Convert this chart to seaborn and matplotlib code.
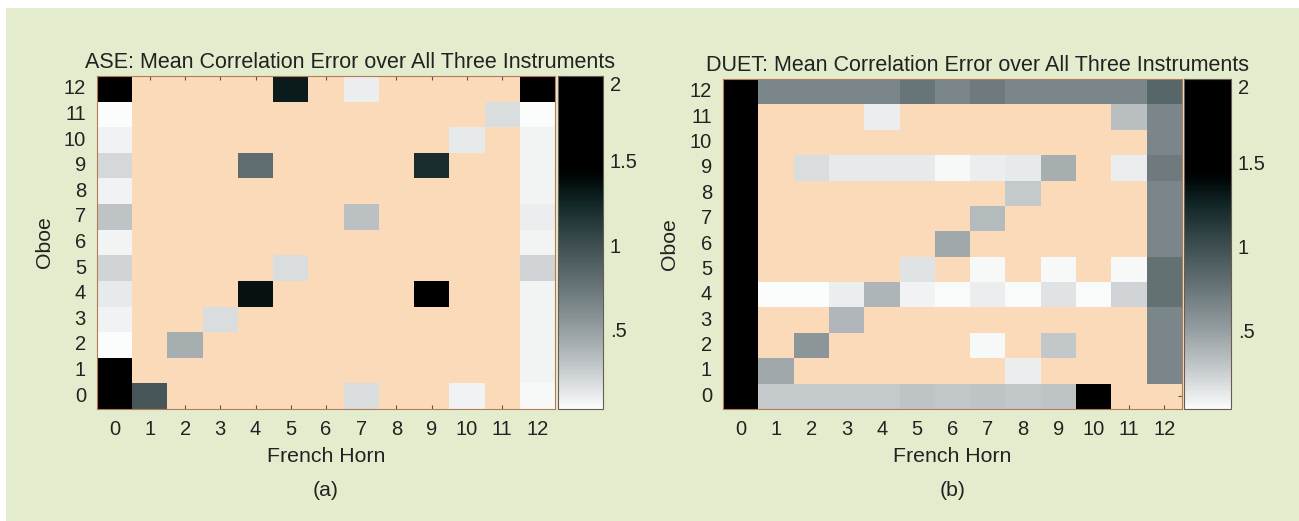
import numpy as np
import pandas as pd
import matplotlib
matplotlib.use("Agg")
import matplotlib.pyplot as plt
from matplotlib.colors import LinearSegmentedColormap
from matplotlib.patches import Rectangle
import seaborn as sns

sns.set_style("white")
plt.rcParams["font.family"] = ["Liberation Sans", "DejaVu Sans"]

N = np.nan
positions = list(range(13))  # French Horn (columns) and Oboe (rows)

# ASE mean correlation error, rows = Oboe 0..12, cols = French Horn 0..12
ase_rows = [
    [2.0, 0.95, N, N, N, N, N, 0.18, N, N, 0.08, N, 0.05],
    [2.0, N, N, N, N, N, N, N, N, N, N, N, 0.07],
    [0.03, N, 0.42, N, N, N, N, N, N, N, N, N, 0.07],
    [0.08, N, N, 0.18, N, N, N, N, N, N, N, N, 0.07],
    [0.12, N, N, N, 1.35, N, N, N, N, 1.5, N, N, 0.07],
    [0.22, N, N, N, N, 0.18, N, N, N, N, N, N, 0.22],
    [0.07, N, N, N, N, N, N, N, N, N, N, N, 0.07],
    [0.3, N, N, N, N, N, N, 0.32, N, N, N, N, 0.1],
    [0.08, N, N, N, N, N, N, N, N, N, N, N, 0.07],
    [0.2, N, N, N, 0.8, N, N, N, N, 1.2, N, N, 0.07],
    [0.08, N, N, N, N, N, N, N, N, N, 0.12, N, 0.07],
    [0.03, N, N, N, N, N, N, N, N, N, N, 0.18, 0.03],
    [2.0, N, N, N, N, 1.3, N, 0.1, N, N, N, N, 2.0],
]

# DUET mean correlation error
duet_rows = [
    [2.0, 0.27, 0.27, 0.27, 0.27, 0.3, 0.28, 0.3, 0.28, 0.3, 2.0, N, N],
    [2.0, 0.45, N, N, N, N, N, N, 0.1, N, N, N, 0.65],
    [2.0, N, 0.55, N, N, N, N, 0.05, N, 0.28, N, N, 0.65],
    [2.0, N, N, 0.37, N, N, N, N, N, N, N, N, 0.65],
    [2.0, 0.03, 0.03, 0.1, 0.38, 0.08, 0.04, 0.1, 0.04, 0.15, 0.04, 0.22, 0.78],
    [2.0, N, N, N, N, 0.15, N, 0.05, N, 0.05, N, 0.05, 0.78],
    [2.0, N, N, N, N, N, 0.45, N, N, N, N, N, 0.65],
    [2.0, N, N, N, N, N, N, 0.35, N, N, N, N, 0.65],
    [2.0, N, N, N, N, N, N, N, 0.27, N, N, N, 0.65],
    [2.0, N, 0.18, 0.12, 0.12, 0.12, 0.05, 0.1, 0.12, 0.42, N, 0.1, 0.72],
    [2.0, N, N, N, N, N, N, N, N, N, N, N, 0.65],
    [2.0, N, N, N, 0.1, N, N, N, N, N, N, 0.33, 0.65],
    [2.0, 0.65, 0.65, 0.65, 0.65, 0.75, 0.65, 0.72, 0.65, 0.65, 0.65, 0.65, 0.85],
]

titles = ["ASE: Mean Correlation Error over All Three Instruments",
          "DUET: Mean Correlation Error over All Three Instruments"]
panel_tags = ["(a)", "(b)"]
cbar_ticks = [0.5, 1.0, 1.5, 2.0]
cbar_ticklabels = [".5", "1", "1.5", "2"]

VMIN, VMAX = 0.03, 2.0
BG = "#e3edcd"
PEACH = "#fbdab9"
SPINE = "#b77a58"
TXT = "#222222"
W, H = 1299, 521

# grey ramp with a slight teal cast, saturating to black above ~1.4
nodes = [(0.03, "#fbfcfc"), (0.25, "#c8cdcf"), (0.5, "#959ea1"), (0.75, "#687578"),
         (1.0, "#3e4f51"), (1.25, "#122626"), (1.4, "#000707"), (1.45, "#000000"), (2.0, "#000000")]
cmap = LinearSegmentedColormap.from_list(
    "corr", [((v - VMIN) / (VMAX - VMIN), c) for v, c in nodes])

fig = plt.figure(figsize=(W / 100, H / 100), dpi=100)
fig.patch.set_facecolor("white")
fig.patches.append(Rectangle((6 / W, 0), 1, 1 - 8 / H, transform=fig.transFigure,
                             facecolor=BG, edgecolor="none", zorder=-10))

# pixel boxes: (left, top, right, bottom)
ax_px = [(97, 76, 555, 409), (723, 79, 1182, 409)]
cb_px = [(558, 76, 603, 409), (1184, 79, 1231, 409)]
ylabel_x = [44, 670]


def frac(box):
    l, t, r, b = box
    return [l / W, 1 - b / H, (r - l) / W, (b - t) / H]


for rows, title, tag, axb, cbb, yx in zip([ase_rows, duet_rows], titles, panel_tags,
                                          ax_px, cb_px, ylabel_x):
    df = pd.DataFrame(rows, index=positions, columns=positions)
    ax = fig.add_axes(frac(axb))
    cax = fig.add_axes(frac(cbb))
    ax.set_facecolor(PEACH)
    sns.heatmap(df, ax=ax, cbar_ax=cax, cmap=cmap, vmin=VMIN, vmax=VMAX,
                linewidths=0, cbar_kws={"ticks": cbar_ticks})
    ax.set_ylim(0, 13)
    ax.set_yticklabels(positions, rotation=0, fontsize=14.5, color=TXT)
    ax.set_xticklabels(positions, rotation=0, fontsize=14.5, color=TXT)
    ax.tick_params(direction="in", length=3, width=0.8, color="#555555",
                   top=True, right=True, bottom=True, left=True, pad=8)
    for s in ax.spines.values():
        s.set_visible(True)
        s.set_color(SPINE)
        s.set_linewidth(0.8)

    # title centred over heatmap + colorbar
    cx = (axb[0] + cbb[2]) / 2
    fig.text(cx / W, 1 - (axb[1] - 8) / H, title, ha="center", va="baseline",
             fontsize=15.5, color=TXT)

    hpx = axb[3] - axb[1]
    ax.set_xlabel("French Horn", fontsize=15.3, color=TXT)
    ax.xaxis.set_label_coords(0.5, -(457 - axb[3]) / hpx)
    ax.xaxis.label.set_va("center")
    ax.set_ylabel("Oboe", fontsize=15.3, color=TXT)
    ax.yaxis.set_label_coords(-(axb[0] - yx) / (axb[2] - axb[0]), 0.5)
    ax.yaxis.label.set_va("center")
    ax.text(0.5, -(490 - axb[3]) / hpx, tag, transform=ax.transAxes,
            ha="center", va="center", fontsize=15.3, color=TXT)

    cb = ax.collections[0].colorbar
    cb.set_ticklabels(cbar_ticklabels)
    cax.tick_params(direction="in", length=3, width=0.8, color="#555555",
                    left=True, right=True, labelsize=14.5, labelcolor=TXT, pad=5)
    # top label sits inside the bar height, as in the original
    cax.get_yticklabels()[-1].set_va("top")
    cb.outline.set_edgecolor("#6a5a50")
    cb.outline.set_linewidth(0.8)

fig.savefig("out.png", dpi=100, facecolor=fig.get_facecolor())
